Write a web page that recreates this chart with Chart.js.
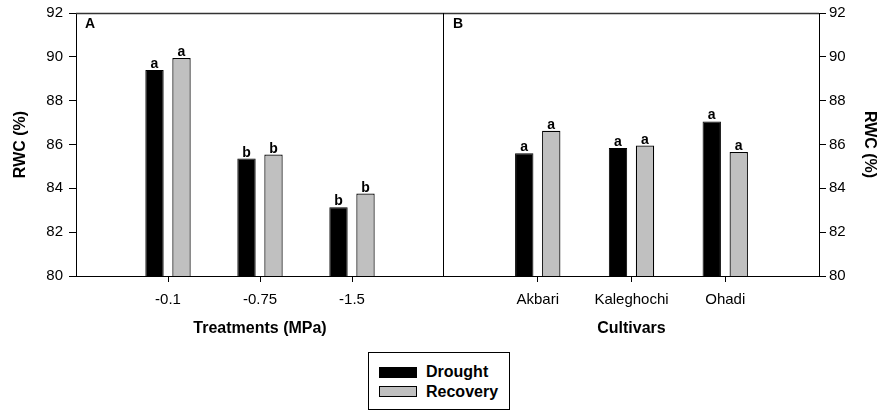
<!DOCTYPE html>
<html>
<head>
<meta charset="utf-8">
<script src="https://cdn.jsdelivr.net/npm/chart.js@4.4.1/dist/chart.umd.min.js"></script>
<style>
  body { margin: 0; background: #fff; font-family: "Liberation Sans", Arial, sans-serif; }
  #wrap { position: relative; width: 880px; height: 412px; }
  canvas { position: absolute; top: 0; }
  #legend {
    position: absolute; left: 368px; top: 352px; width: 140px; height: 56px;
    border: 1px solid #000; box-sizing: content-box;
  }
  .item { position: absolute; left: 10px; font-weight: bold; font-size: 16px; color: #000; }
  .sw { position: absolute; left: 0; width: 36px; height: 9px; border: 1px solid #000; }
  .item span { position: absolute; left: 47px; white-space: nowrap; }
</style>
</head>
<body>
<div id="wrap">
  <canvas id="left" width="444" height="345" style="left:0"></canvas>
  <canvas id="right" width="436" height="345" style="left:444px"></canvas>
  <div id="legend">
    <div class="item" style="top:14px"><div class="sw" style="background:#000"></div><span style="top:-4px">Drought</span></div>
    <div class="item" style="top:33px"><div class="sw" style="background:#c0c0c0"></div><span style="top:-3px">Recovery</span></div>
  </div>
</div>
<script>
// Panel A: drought levels
const treatments = ["-0.1", "-0.75", "-1.5"];
const droughtA = [89.4, 85.36, 83.14];
const recoveryA = [89.95, 85.54, 83.76];
const lettersDroughtA = ["a", "b", "b"];
const lettersRecoveryA = ["a", "b", "b"];

// Panel B: cultivars
const cultivars = ["Akbari", "Kaleghochi", "Ohadi"];
const droughtB = [85.6, 85.84, 87.05];
const recoveryB = [86.63, 85.95, 85.66];
const lettersDroughtB = ["a", "a", "a"];
const lettersRecoveryB = ["a", "a", "a"];

const yTicks = [80, 82, 84, 86, 88, 90, 92];

Chart.defaults.font.family = '"Liberation Sans", Arial, sans-serif';
Chart.defaults.color = "#000";

// pad with empty slots so the three groups sit at 1/4, 2/4, 3/4 of the panel
const pad = (arr) => ["", ...arr, ""];
const padVals = (arr) => [null, ...arr, null];

const barLetters = {
  id: "barLetters",
  afterDatasetsDraw(chart, args, opts) {
    const ctx = chart.ctx;
    ctx.save();
    ctx.font = "bold 14px 'Liberation Sans', Arial, sans-serif";
    ctx.fillStyle = "#000";
    ctx.textAlign = "center";
    ctx.textBaseline = "alphabetic";
    chart.data.datasets.forEach((ds, i) => {
      chart.getDatasetMeta(i).data.forEach((el, j) => {
        const txt = ds.letters[j];
        if (!txt || ds.data[j] == null) return;
        ctx.fillText(txt, el.x, el.y - 2);
      });
    });
    ctx.restore();
  },
};

const frame = {
  id: "frame",
  afterDraw(chart, args, opts) {
    const { ctx, chartArea: a } = chart;
    ctx.save();
    ctx.strokeStyle = "#333";
    ctx.lineWidth = 1.3;
    ctx.beginPath();
    ctx.moveTo(a.left, a.top + 0.5);
    ctx.lineTo(a.right, a.top + 0.5);
    ctx.stroke();
    if (opts.divider) {
      ctx.strokeStyle = "#000";
      ctx.lineWidth = 1;
      ctx.beginPath();
      ctx.moveTo(a.right - 0.5, a.top);
      ctx.lineTo(a.right - 0.5, a.bottom);
      ctx.stroke();
    }
    ctx.font = "bold 14px 'Liberation Sans', Arial, sans-serif";
    ctx.fillStyle = "#000";
    ctx.textBaseline = "middle";
    ctx.fillText(opts.tag, a.left + 9, a.top + 11);
    ctx.restore();
  },
};

function makeChart(id, labels, drought, recovery, lDrought, lRecovery, opt) {
  return new Chart(document.getElementById(id), {
    type: "bar",
    data: {
      labels: pad(labels),
      datasets: [
        {
          label: "Drought",
          data: padVals(drought),
          letters: pad(lDrought),
          backgroundColor: "#000",
          borderColor: "#000",
          borderWidth: 1,
        },
        {
          label: "Recovery",
          data: padVals(recovery),
          letters: pad(lRecovery),
          backgroundColor: "#c0c0c0",
          borderColor: "#000",
          borderWidth: 1.2,
        },
      ],
    },
    options: {
      responsive: false,
      animation: false,
      devicePixelRatio: 1,
      categoryPercentage: opt.catPct,
      barPercentage: 0.68,
      layout: { padding: { top: 13, left: 0, right: 0, bottom: 0 } },
      plugins: {
        legend: { display: false },
        tooltip: { enabled: false },
        frame: { tag: opt.tag, divider: opt.divider },
      },
      scales: {
        x: {
          type: "category",
          offset: false,
          grid: {
            offset: false,
            drawOnChartArea: false,
            tickLength: 6,
            tickColor: (c) => (c.index === 0 || c.index === 4 ? "rgba(0,0,0,0)" : "#000"),
          },
          border: { color: "#000", width: 1 },
          ticks: { autoSkip: false, maxRotation: 0, padding: 9, font: { size: 15 }, color: "#000" },
          title: {
            display: true,
            text: opt.xTitle,
            color: "#000",
            font: { size: 16, weight: "bold" },
            padding: { top: 0, bottom: 7 },
          },
          afterFit: (s) => {
            s.height = 69;
            s.paddingLeft = 0;
            s.paddingRight = 0;
          },
        },
        y: {
          position: opt.yPos,
          min: 80,
          max: 92,
          afterBuildTicks: (s) => { s.ticks = yTicks.map((v) => ({ value: v })); },
          grid: { drawOnChartArea: false, tickLength: 7, color: "#000" },
          border: { color: "#000", width: 1 },
          ticks: { padding: opt.yPad, font: { size: 15 }, color: "#000" },
          title: {
            display: true,
            text: "RWC (%)",
            color: "#000",
            font: { size: 16, weight: "bold" },
            padding: { top: opt.titlePad, bottom: 0 },
          },
          afterFit: (s) => {
            s.width = opt.yWidth;
            s.paddingTop = 0;
            s.paddingBottom = 0;
          },
        },
      },
    },
    plugins: [barLetters, frame],
  });
}

makeChart("left", treatments, droughtA, recoveryA, lettersDroughtA, lettersRecoveryA, {
  tag: "A", divider: true, xTitle: "Treatments (MPa)", yPos: "left",
  yWidth: 76, yPad: 6, titlePad: 11, catPct: 54 / 92,
});
makeChart("right", cultivars, droughtB, recoveryB, lettersDroughtB, lettersRecoveryB, {
  tag: "B", divider: false, xTitle: "Cultivars", yPos: "right",
  yWidth: 61, yPad: 3, titlePad: 1, catPct: 54 / 93.75,
});
</script>
</body>
</html>
